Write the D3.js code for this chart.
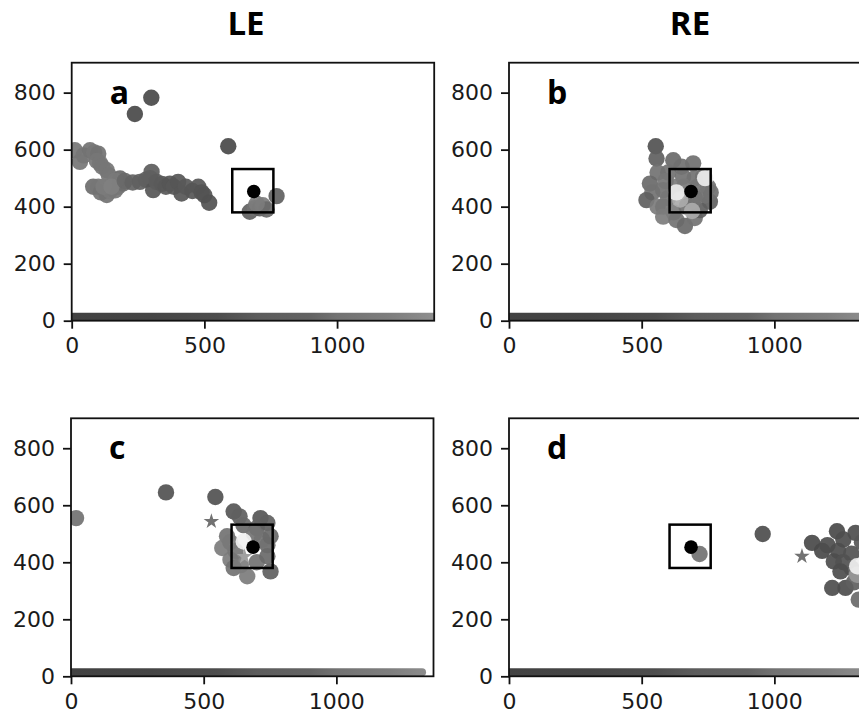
<!DOCTYPE html>
<html>
<head>
<meta charset="utf-8">
<script src="https://cdn.jsdelivr.net/npm/d3@7"></script>
<style>
  body { margin: 0; background: #fff; }
  .vis { width: 859px; height: 713px; overflow: hidden; }
</style>
</head>
<body>
<div class="vis"></div>
<script>
(function() {
  'use strict';

  // gaze points per panel: [x, y, tone]  tone 0 = dark grey ... 1 = white
  var pointsA = [
    [238, 725, 0.08], [300, 782, 0.08], [590, 612, 0.08],
    [12, 598, 0.32], [31, 557, 0.32], [45, 580, 0.32], [69, 598, 0.3], [85, 590, 0.32],
    [100, 586, 0.3], [95, 560, 0.32], [107, 552, 0.32], [115, 540, 0.32], [132, 528, 0.32],
    [140, 510, 0.32], [81, 470, 0.27], [100, 470, 0.32], [110, 450, 0.3], [132, 441, 0.3],
    [145, 455, 0.34], [163, 457, 0.32], [175, 470, 0.32], [182, 499, 0.24], [194, 481, 0.27],
    [163, 491, 0.34], [120, 470, 0.35], [150, 470, 0.37], [200, 490, 0.25], [230, 485, 0.22],
    [257, 487, 0.2], [280, 495, 0.2], [301, 522, 0.18], [295, 500, 0.2], [307, 458, 0.15],
    [320, 487, 0.18], [340, 480, 0.17], [355, 470, 0.16], [370, 481, 0.15], [385, 470, 0.16],
    [401, 487, 0.15], [414, 446, 0.15], [430, 470, 0.16], [455, 455, 0.15], [477, 470, 0.15],
    [490, 450, 0.14], [500, 440, 0.14], [518, 414, 0.12],
    [671, 382, 0.2], [690, 395, 0.3], [709, 394, 0.2], [720, 405, 0.35], [734, 390, 0.25],
    [697, 410, 0.35], [772, 437, 0.2]
  ];
  var pointsB = [
    [553, 612, 0.12], [556, 569, 0.2], [619, 563, 0.25], [694, 552, 0.28], [600, 520, 0.3],
    [650, 540, 0.28], [560, 520, 0.3], [531, 481, 0.25], [540, 450, 0.3], [518, 423, 0.2],
    [581, 458, 0.3], [600, 430, 0.32], [560, 400, 0.35], [581, 400, 0.32], [620, 380, 0.35],
    [581, 365, 0.35], [631, 353, 0.3], [663, 332, 0.25], [700, 360, 0.3], [669, 400, 0.3],
    [719, 388, 0.2], [757, 417, 0.2], [760, 450, 0.28], [740, 440, 0.3], [750, 470, 0.3],
    [731, 505, 0.35], [656, 505, 0.3], [620, 470, 0.35], [700, 500, 0.3], [690, 420, 0.3],
    [710, 470, 0.32], [660, 470, 0.33], [590, 490, 0.32], [700, 430, 0.3],
    [645, 425, 0.6], [631, 450, 0.95], [739, 500, 0.95], [690, 385, 0.6]
  ];
  var pointsC = [
    [19, 555, 0.3], [358, 645, 0.12], [544, 629, 0.12], [613, 578, 0.15],
    [635, 561, 0.2], [714, 555, 0.15], [740, 538, 0.2], [650, 530, 0.25], [700, 520, 0.22],
    [588, 491, 0.3], [570, 450, 0.35], [601, 409, 0.35], [613, 380, 0.3], [640, 390, 0.35],
    [664, 351, 0.35], [700, 400, 0.3], [752, 368, 0.2], [740, 421, 0.25], [740, 460, 0.25],
    [720, 480, 0.3], [752, 491, 0.25], [690, 500, 0.3], [620, 440, 0.32], [600, 470, 0.33],
    [651, 473, 0.97]
  ];
  var pointsD = [
    [718, 429, 0.3], [956, 499, 0.1], [1142, 468, 0.08], [1180, 440, 0.08], [1200, 460, 0.1],
    [1236, 509, 0.08], [1260, 480, 0.1], [1306, 503, 0.1], [1330, 470, 0.15], [1240, 440, 0.1],
    [1290, 430, 0.12], [1224, 403, 0.1], [1260, 400, 0.12], [1290, 380, 0.2], [1249, 368, 0.1],
    [1218, 310, 0.1], [1268, 310, 0.1], [1300, 330, 0.2],
    [1318, 269, 0.25], [1312, 356, 0.5], [1312, 386, 0.97]
  ];
  // star markers (first fixation)
  var starsC = [[529, 543, 0.3], [654, 420, 0.55]];
  var starsD = [[1104, 421, 0.3]];

  // target location and its box
  var target = [686, 453];
  var boxX = [605, 760],
    boxY = [380, 532];

  // grey strip along the bottom: x stop and tone
  var stripStops = [[0, 0.04], [300, 0.06], [550, 0.1], [700, 0.18], [900, 0.22], [1000, 0.3], [1200, 0.36], [1366, 0.45]];
  var stripEnd = [1366, 1366, 1338, 1366];

  var xTicks = [0, 500, 1000],
    yTicks = [0, 200, 400, 600, 800];
  var columnTitles = ['LE', 'RE'];
  var panelLetters = ['a', 'b', 'c', 'd'];

  var panels = [
    {points: pointsA, stars: [], left: 71.7, top: 62.7},
    {points: pointsB, stars: [], left: 509, top: 62.7},
    {points: pointsC, stars: starsC, left: 71, top: 418.3},
    {points: pointsD, stars: starsD, left: 509, top: 418.3}
  ];

  var pw = 362.5, ph = 258;

  var x = d3.scaleLinear().domain([0, 1366]).range([0, pw]);
  var y = d3.scaleLinear().domain([0, 905]).range([ph, 0]);
  var tone = d3.scaleLinear().domain([0, 1]).range(['#3a3a3a', '#f6f6f6']);

  var svg = d3.select('.vis').append('svg')
    .attr('width', 859)
    .attr('height', 713);

  var defs = svg.append('defs');

  svg.selectAll('.col-title')
    .data(columnTitles)
    .enter().append('text')
      .attr('class', 'col-title')
      .attr('x', function(d, i) { return i === 0 ? 246 : 690; })
      .attr('y', 35)
      .attr('text-anchor', 'middle')
      .style('font-family', 'Open Sans, sans-serif')
      .style('font-weight', 700)
      .style('font-size', '33px')
      .text(function(d) { return d; });

  panels.forEach(function(p, i) {
    var g = svg.append('g')
      .attr('transform', 'translate(' + p.left + ',' + p.top + ')');

    var clipId = 'clip' + i;
    defs.append('clipPath').attr('id', clipId)
      .append('rect').attr('width', pw).attr('height', ph);

    var gradId = 'strip' + i;
    var grad = defs.append('linearGradient')
      .attr('id', gradId)
      .attr('gradientUnits', 'userSpaceOnUse')
      .attr('x1', x(0)).attr('x2', x(1366))
      .attr('y1', 0).attr('y2', 0);
    grad.selectAll('stop')
      .data(stripStops)
      .enter().append('stop')
        .attr('offset', function(d) { return d[0] / 1366; })
        .attr('stop-color', function(d) { return tone(d[1]); });

    var plot = g.append('g').attr('clip-path', 'url(#' + clipId + ')');

    plot.append('line')
      .attr('x1', x(0))
      .attr('x2', x(stripEnd[i]) - (i === 2 ? 4 : 0))
      .attr('y1', y(14))
      .attr('y2', y(14))
      .attr('stroke', 'url(#' + gradId + ')')
      .attr('stroke-width', 8)
      .attr('stroke-linecap', i === 2 ? 'round' : 'butt');

    plot.selectAll('.point')
      .data(p.points)
      .enter().append('circle')
        .attr('class', 'point')
        .attr('cx', function(d) { return x(d[0]); })
        .attr('cy', function(d) { return y(d[1]); })
        .attr('r', 8.2)
        .attr('fill', function(d) { return tone(d[2]); })
        .attr('fill-opacity', 0.92);

    plot.selectAll('.star')
      .data(p.stars)
      .enter().append('path')
        .attr('class', 'star')
        .attr('d', d3.symbol().type(d3.symbolStar).size(75))
        .attr('transform', function(d) { return 'translate(' + x(d[0]) + ',' + y(d[1]) + ')'; })
        .attr('fill', function(d) { return tone(d[2]); });

    plot.append('circle')
      .attr('cx', x(target[0]))
      .attr('cy', y(target[1]))
      .attr('r', 6.8)
      .attr('fill', '#000');

    plot.append('rect')
      .attr('x', x(boxX[0]))
      .attr('y', y(boxY[1]))
      .attr('width', x(boxX[1]) - x(boxX[0]))
      .attr('height', y(boxY[0]) - y(boxY[1]))
      .attr('fill', 'none')
      .attr('stroke', '#000')
      .attr('stroke-width', 2.5);

    g.append('rect')
      .attr('width', pw)
      .attr('height', ph)
      .attr('fill', 'none')
      .attr('stroke', '#111')
      .attr('stroke-width', 1.8);

    var xAxis = g.append('g')
      .attr('transform', 'translate(0,' + ph + ')')
      .call(d3.axisBottom(x).tickValues(xTicks).tickFormat(d3.format('d')).tickSize(8).tickPadding(9));
    var yAxis = g.append('g')
      .call(d3.axisLeft(y).tickValues(yTicks).tickFormat(d3.format('d')).tickSize(8).tickPadding(8));

    [xAxis, yAxis].forEach(function(a) {
      a.select('.domain').remove();
      a.selectAll('line').attr('stroke', '#111').attr('stroke-width', 1.8);
      a.selectAll('text')
        .attr('fill', '#1a1a1a')
        .style('font-family', 'DejaVu Sans, sans-serif')
        .style('font-size', '22px');
    });

    g.append('text')
      .attr('x', 38)
      .attr('y', 41)
      .style('font-family', 'Open Sans, sans-serif')
      .style('font-weight', 700)
      .style('font-size', '32px')
      .text(panelLetters[i]);
  });
}());
</script>
</body>
</html>
